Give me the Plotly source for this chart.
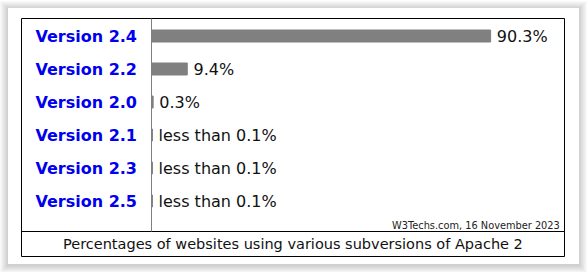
import plotly.graph_objects as go

versions = ["Version 2.4", "Version 2.2", "Version 2.0", "Version 2.1", "Version 2.3", "Version 2.5"]
shares = [90.3, 9.4, 0.3, 0.1, 0.1, 0.1]
labels = ["90.3%", "9.4%", "0.3%", "less than 0.1%", "less than 0.1%", "less than 0.1%"]
caption = "Percentages of websites using various subversions of Apache 2"
credit = "W3Techs.com, 16 November 2023"

W, H = 587, 272
def px(x):
    return x / W
def py(y):
    return 1 - y / H

FONT = "DejaVu Sans"

fig = go.Figure(go.Bar(
    x=shares, y=versions, orientation="h",
    marker=dict(color="#808080", line=dict(color="#808080", width=1)),
    text=["\u2009" + t for t in labels], textposition="outside", cliponaxis=False,
    textfont=dict(family=FONT, size=16, color="#111111"),
    constraintext="none", hoverinfo="skip",
))

shapes = []
# card shadow
for i in range(8, 0, -1):
    shapes.append(dict(type="rect", xref="paper", yref="paper", layer="below",
                       x0=px(8 - i), x1=px(579 + i), y0=py(264 + i + 1), y1=py(8 - i + 1),
                       fillcolor="rgba(0,0,0,0.022)", line=dict(width=0)))
shapes.append(dict(type="rect", xref="paper", yref="paper", layer="below",
                   x0=px(8), x1=px(579), y0=py(264), y1=py(8),
                   fillcolor="white", line=dict(width=0)))
# outer border
shapes.append(dict(type="rect", xref="paper", yref="paper", layer="above",
                   x0=px(21.5), x1=px(564.5), y0=py(256.5), y1=py(18.5),
                   fillcolor="rgba(0,0,0,0)", line=dict(color="black", width=1)))
# caption separator
shapes.append(dict(type="line", xref="paper", yref="paper", layer="above",
                   x0=px(21.5), x1=px(564.5), y0=py(231.5), y1=py(231.5),
                   line=dict(color="black", width=1)))
# label divider
shapes.append(dict(type="line", xref="paper", yref="paper", layer="above",
                   x0=px(151.5), x1=px(151.5), y0=py(231.5), y1=py(18.5),
                   line=dict(color="#808080", width=1)))

fig.update_layout(
    width=W, height=H, margin=dict(l=0, r=0, t=0, b=0),
    paper_bgcolor="white", plot_bgcolor="rgba(0,0,0,0)",
    showlegend=False, bargap=1 - 12 / 33,
    shapes=shapes,
    xaxis=dict(domain=[px(152), px(527)], range=[0, 100], visible=False, fixedrange=True),
    yaxis=dict(domain=[py(217.5), py(19.5)], categoryorder="array", categoryarray=versions,
               autorange="reversed", showgrid=False, zeroline=False, showline=False,
               ticks="", ticklabelstandoff=14,
               tickvals=versions, ticktext=["<b>%s</b>" % v for v in versions],
               tickfont=dict(family=FONT, size=16, color="#0000ee")),
    annotations=[
        dict(text=caption, xref="paper", yref="paper", x=px(293), y=py(244),
             xanchor="center", yanchor="middle", showarrow=False,
             font=dict(family=FONT, size=14.5, color="#111111")),
        dict(text=credit, xref="paper", yref="paper", x=px(562), y=py(225),
             xanchor="right", yanchor="middle", showarrow=False,
             font=dict(family=FONT, size=9.8, color="#222222")),
    ],
)

fig.write_html("out.html")
